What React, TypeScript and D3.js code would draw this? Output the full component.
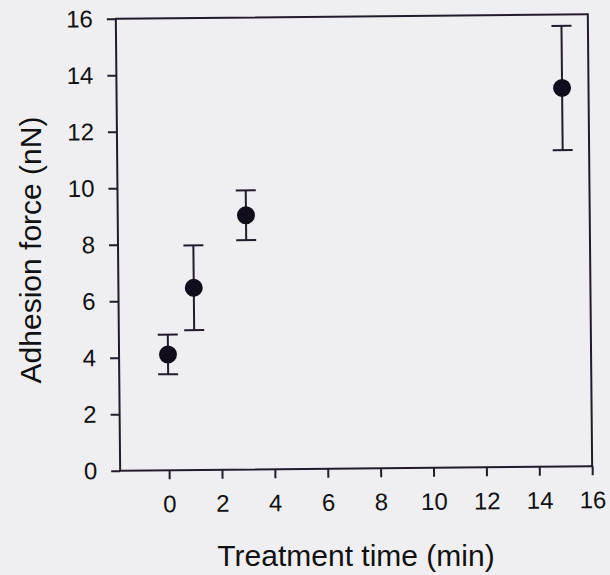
import React, { useEffect, useRef } from "react";
import * as d3 from "d3";

// treatment time (min) and measured adhesion force (nN) with error
const times = [0, 1, 3, 15];
const forces = [4.1, 6.45, 9.0, 13.4];
const errors = [0.7, 1.5, 0.88, 2.2];

const xTicks = [0, 2, 4, 6, 8, 10, 12, 14, 16];
const yTicks = [0, 2, 4, 6, 8, 10, 12, 14, 16];

export default function App() {
  const ref = useRef<SVGSVGElement>(null);

  useEffect(() => {
    const width = 610;
    const height = 575;
    const svg = d3.select(ref.current);
    svg.selectAll("*").remove();

    // scanned page background
    svg.append("rect").attr("width", width).attr("height", height).attr("fill", "#efeff1");

    // the scan is slightly tilted
    const g = svg.append("g").attr("transform", "rotate(-0.55, 353, 244)");

    const x = d3.scaleLinear().domain([-1.85, 16]).range([118, 590]);
    const y = d3.scaleLinear().domain([0, 16]).range([468.5, 16.5]);
    const ink = "#231b2b";
    const font = "'Liberation Sans', Arial, sans-serif";

    // frame
    g.append("rect")
      .attr("x", x(-1.85))
      .attr("y", y(16))
      .attr("width", x(16) - x(-1.85))
      .attr("height", y(0) - y(16))
      .attr("fill", "none")
      .attr("stroke", ink)
      .attr("stroke-width", 2);

    // y axis
    const yAxis = g
      .append("g")
      .attr("transform", "translate(" + x(-1.85) + ",0)")
      .call(d3.axisLeft(y).tickValues(yTicks).tickSize(9).tickPadding(14).tickFormat(d3.format("d")));
    yAxis.select(".domain").remove();
    yAxis.selectAll("line").attr("stroke", ink).attr("stroke-width", 2);
    yAxis.selectAll("text").attr("font-family", font).attr("font-size", 24).attr("fill", "#111");

    // x axis
    const xAxis = g
      .append("g")
      .attr("transform", "translate(0," + y(0) + ")")
      .call(d3.axisBottom(x).tickValues(xTicks).tickSize(9).tickPadding(16).tickFormat(d3.format("d")));
    xAxis.select(".domain").remove();
    xAxis.selectAll("line").attr("stroke", ink).attr("stroke-width", 2);
    xAxis.selectAll("text").attr("font-family", font).attr("font-size", 24).attr("fill", "#111");

    // error bars
    const bars = g.append("g").attr("stroke", ink).attr("stroke-width", 2);
    times.forEach((t, i) => {
      const cx = x(t);
      const top = y(forces[i] + errors[i]);
      const bot = y(forces[i] - errors[i]);
      bars.append("line").attr("x1", cx).attr("x2", cx).attr("y1", top).attr("y2", bot);
      bars.append("line").attr("x1", cx - 10).attr("x2", cx + 10).attr("y1", top).attr("y2", top);
      bars.append("line").attr("x1", cx - 10).attr("x2", cx + 10).attr("y1", bot).attr("y2", bot);
    });

    // points
    g.append("g")
      .selectAll("circle")
      .data(times)
      .enter()
      .append("circle")
      .attr("cx", d => x(d))
      .attr("cy", (d, i) => y(forces[i]))
      .attr("r", 9)
      .attr("fill", "#120d1c");

    // axis titles
    svg
      .append("text")
      .attr("x", 356)
      .attr("y", 566)
      .attr("text-anchor", "middle")
      .attr("font-family", font)
      .attr("font-size", 30)
      .attr("fill", "#111")
      .text("Treatment time (min)");

    svg
      .append("text")
      .attr("transform", "translate(41,250) rotate(-90)")
      .attr("text-anchor", "middle")
      .attr("font-family", font)
      .attr("font-size", 30)
      .attr("fill", "#111")
      .text("Adhesion force (nN)");
  }, []);

  return (
    <svg
      ref={ref}
      width={610}
      height={575}
      style={{ position: "absolute", left: 0, top: 0, display: "block" }}
    />
  );
}
